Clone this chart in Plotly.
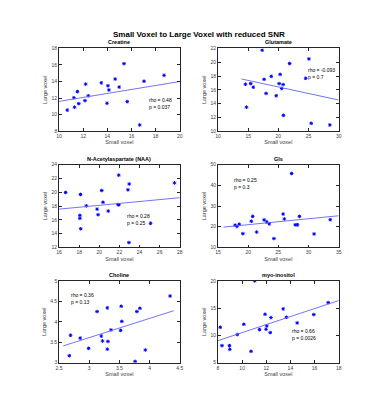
import plotly.graph_objects as go
import numpy as np

# ---------------- data ----------------
names = ["Creatine", "Glutamate", "N-Acetylaspartate (NAA)", "Gls", "Choline", "myo-inositol"]

cr_x = [10.68, 11.28, 11.23, 11.52, 11.63, 12.15, 12.2, 12.42, 13.5, 14.05, 14.13, 13.97, 14.65, 14.98, 15.38, 15.65, 16.68, 17.04, 18.7]
cr_y = [10.55, 10.9, 12.04, 12.78, 11.33, 11.69, 13.69, 12.27, 13.84, 13.49, 12.98, 11.37, 14.3, 13.33, 16.16, 11.57, 8.75, 14.04, 14.75]

glu_x = [14.55, 14.72, 15.42, 15.85, 17.32, 17.64, 17.97, 18.83, 19.65, 20.13, 20.3, 20.57, 20.79, 20.84, 21.87, 24.53, 25.07, 25.45, 28.54]
glu_y = [16.81, 13.48, 16.9, 16.38, 21.75, 17.52, 15.48, 17.95, 15.14, 16.9, 18.24, 16.19, 16.76, 12.29, 19.81, 17.67, 20.48, 11.14, 10.9]

naa_x = [16.65, 18.13, 18.07, 18.07, 18.15, 18.71, 19.78, 19.88, 20.24, 20.37, 20.89, 21.93, 21.87, 21.95, 22.85, 22.98, 22.95, 25.1, 27.48]
naa_y = [19.97, 19.68, 16.65, 16.22, 14.7, 18.02, 17.55, 16.74, 20.25, 18.55, 17.27, 22.48, 18.21, 18.18, 20.35, 21.2, 12.7, 15.5, 21.35]

gls_x = [17.82, 18.14, 18.52, 19.12, 20.53, 20.75, 21.4, 22.64, 23.08, 23.5, 24.27, 25.79, 26.0, 27.2, 27.8, 28.18, 28.5, 30.93, 33.6]
gls_y = [20.75, 20.1, 21.2, 16.64, 22.65, 25.0, 17.43, 23.3, 22.33, 21.4, 14.27, 26.13, 23.75, 45.73, 20.9, 20.9, 25.0, 16.5, 23.4]

cho_x = [2.67, 2.69, 2.85, 2.99, 3.13, 3.2, 3.22, 3.3, 3.31, 3.3, 3.36, 3.52, 3.53, 3.54, 3.76, 3.79, 3.84, 3.93, 4.34]
cho_y = [3.17, 3.67, 3.6, 3.35, 4.25, 3.65, 3.53, 4.34, 3.52, 3.33, 3.8, 3.79, 4.38, 4.01, 3.03, 4.25, 4.33, 3.31, 4.63]

myo_x = [8.19, 8.33, 8.95, 8.98, 9.6, 10.14, 10.74, 11.04, 11.44, 11.9, 11.98, 12.04, 12.33, 12.39, 13.4, 13.67, 14.56, 15.94, 17.13]
myo_y = [11.49, 8.12, 8.12, 7.45, 10.15, 12.04, 7.08, 20.0, 11.06, 13.88, 11.12, 11.74, 10.51, 13.27, 14.86, 13.33, 12.29, 13.82, 16.02]

# regression line endpoints (x range, y values)
fit_x = [[10, 20], [13.9, 30], [16, 28], [15.9, 35], [2.57, 4.4], [8, 18]]
fit_y = [[11.6, 14.0], [17.57, 14.52], [17.55, 19.21], [19.8, 25.3], [3.41, 4.27], [9.04, 16.39]]

rho_txt = ["rho = 0.48", "rho = -0.093", "rho = 0.28", "rho = 0.25", "rho = 0.36", "rho = 0.66"]
p_txt = ["p = 0.037", "p = 0.7", "p = 0.25", "p = 0.3", "p = 0.13", "p = 0.0026"]
txt_pos = [(17.3, 11.4), (24.6, 18.3), (22.55, 16.1), (17.3, 40.7), (2.67, 4.58), (14.0, 10.1)]

x_ranges = [[10, 20], [10, 30], [16, 28], [15, 35], [2.5, 4.5], [8, 18]]
y_ranges = [[8, 18], [10, 22], [12, 24], [10, 50], [3, 5], [5, 20]]
x_dtick = [2, 5, 2, 5, 0.5, 2]
y_dtick = [2, 2, 2, 10, 0.5, 5]

xs = [cr_x, glu_x, naa_x, gls_x, cho_x, myo_x]
ys = [cr_y, glu_y, naa_y, gls_y, cho_y, myo_y]

# ---------------- layout ----------------
W, H = 369, 400
col_px = [(49, 172), (211, 334)]
row_px = [(38, 122), (156, 240), (274, 357)]

FONT = "Liberation Sans, Arial, Helvetica, sans-serif"
fig = go.Figure()
annotations = []
layout = {}

for i in range(6):
    r, c = divmod(i, 2)
    k = "" if i == 0 else str(i + 1)
    xa, ya = "xaxis" + k, "yaxis" + k
    xr, yr = "x" + k, "y" + k
    x0, x1 = col_px[c]
    y0, y1 = row_px[r]
    fig.add_trace(go.Scatter(x=xs[i], y=ys[i], mode="markers", xaxis=xr, yaxis=yr,
                             marker=dict(symbol="asterisk-open", size=3, color="rgb(0,0,255)",
                                         line=dict(color="rgb(0,0,255)", width=1)),
                             showlegend=False, cliponaxis=True))
    fig.add_trace(go.Scatter(x=fit_x[i], y=fit_y[i], mode="lines", xaxis=xr, yaxis=yr,
                             line=dict(color="rgb(100,100,240)", width=0.9),
                             showlegend=False))
    common = dict(showline=True, linecolor="#262626", linewidth=0.8, mirror="ticks",
                  ticks="inside", ticklen=3, tickwidth=0.6, tickcolor="#262626",
                  showgrid=False, zeroline=False,
                  tickfont=dict(size=5, color="#404040", family=FONT))
    layout[xa] = dict(common, domain=[x0 / W, x1 / W], range=x_ranges[i], dtick=x_dtick[i],
                      tick0=x_ranges[i][0], anchor=yr,
                      title=dict(text="Small voxel", font=dict(size=5.5, color="#404040", family=FONT),
                                 standoff=2))
    layout[ya] = dict(common, domain=[1 - y1 / H, 1 - y0 / H], range=y_ranges[i], dtick=y_dtick[i],
                      tick0=y_ranges[i][0], anchor=xr,
                      title=dict(text="Large voxel", font=dict(size=5.5, color="#404040", family=FONT),
                                 standoff=3))
    annotations.append(dict(text="<b>" + names[i] + "</b>", x=(x0 + x1) / 2 / W, y=1 - (y0 - 1) / H,
                            xref="paper", yref="paper", showarrow=False, xanchor="center",
                            yanchor="bottom", font=dict(size=5.5, color="black", family=FONT)))
    tx, ty = txt_pos[i]
    annotations.append(dict(text=rho_txt[i] + "<br>" + p_txt[i], x=tx, y=ty, xref=xr, yref=yr,
                            showarrow=False, xanchor="left", yanchor="middle", align="left",
                            font=dict(size=5, color="black", family=FONT)))

annotations.append(dict(text="<b>Small Voxel to Large Voxel with reduced SNR</b>", x=0.5 * (49 + 334) / W,
                        y=1 - 24 / H, xref="paper", yref="paper", showarrow=False,
                        xanchor="center", yanchor="middle", font=dict(size=8, color="black", family=FONT)))

fig.update_layout(width=W, height=H, margin=dict(l=0, r=0, t=0, b=0),
                  paper_bgcolor="white", plot_bgcolor="white",
                  annotations=annotations, **layout)
fig.write_html("out.html")
